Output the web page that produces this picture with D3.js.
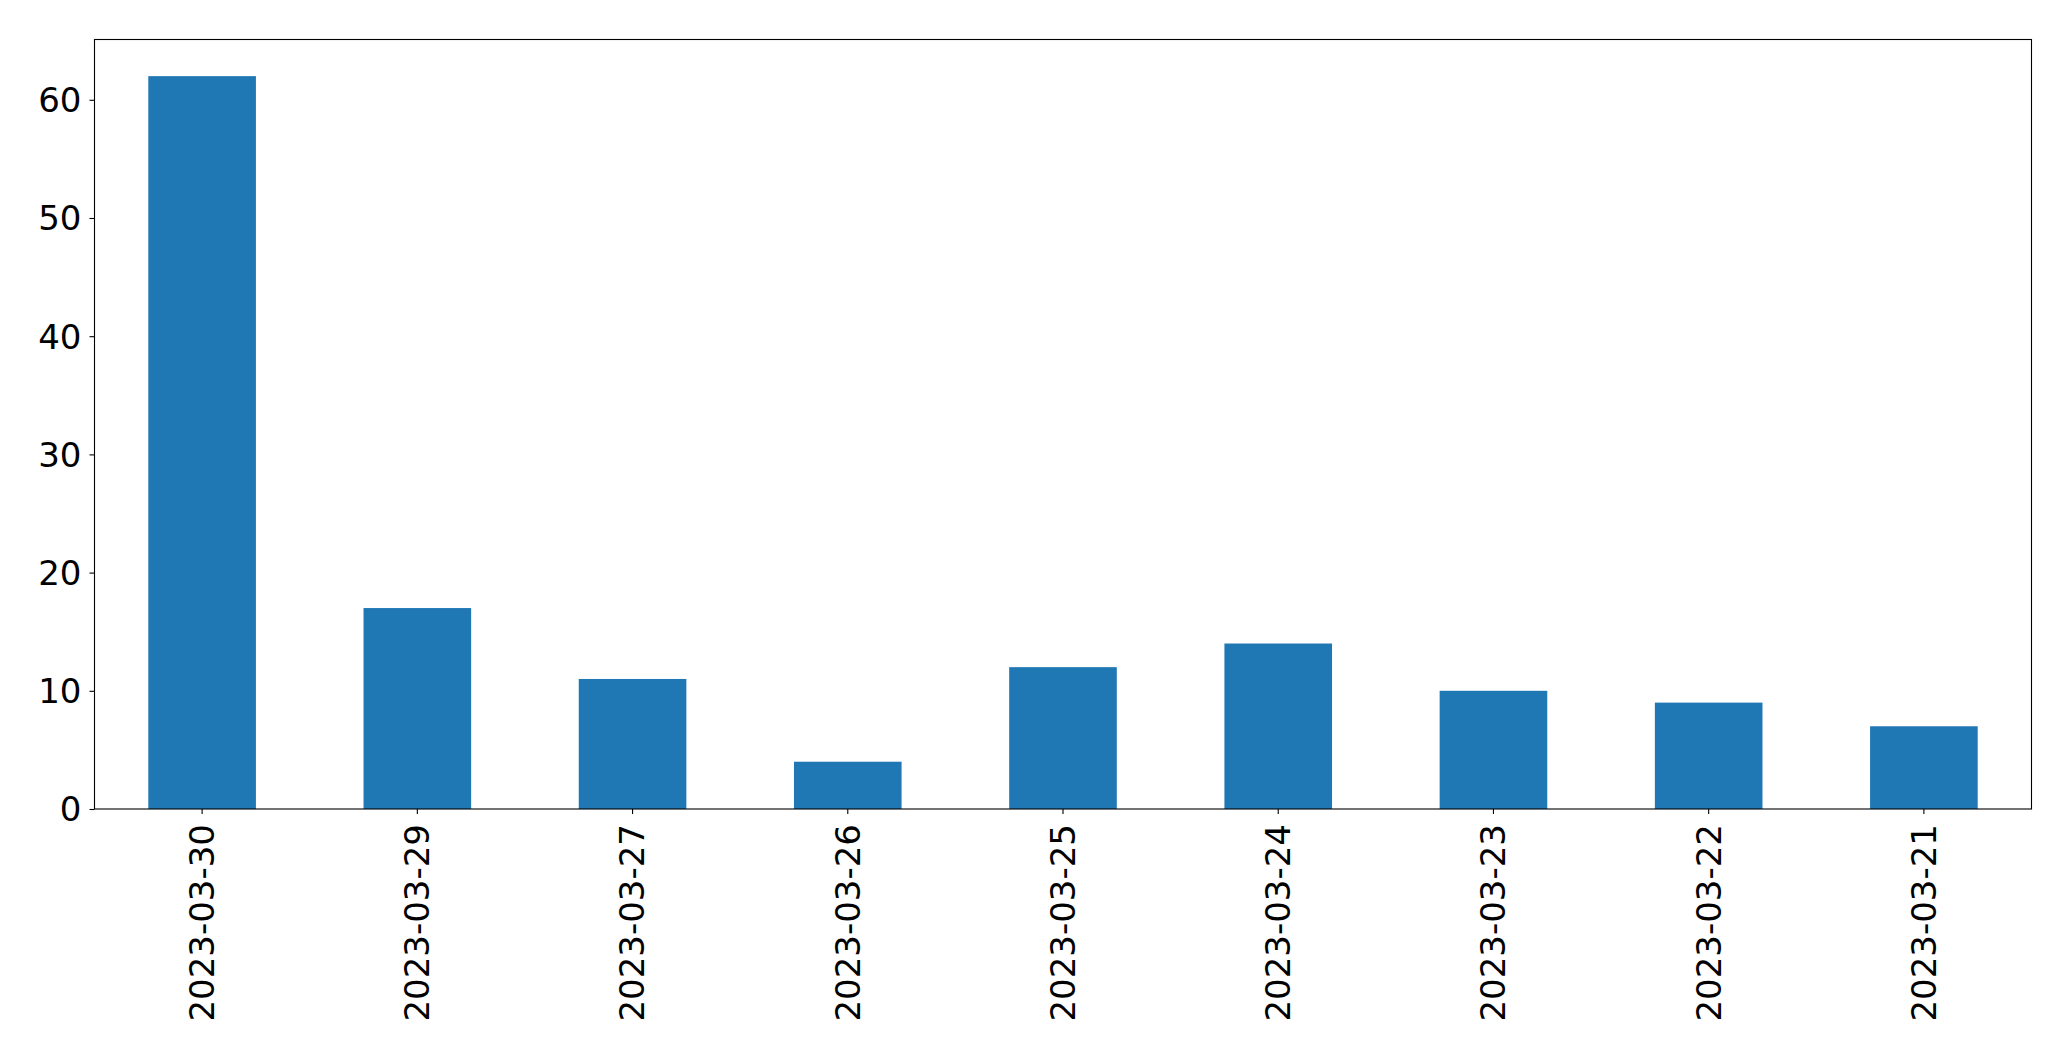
<!DOCTYPE html>
<html>
<head>
<meta charset="utf-8">
<script src="https://cdn.jsdelivr.net/npm/d3@7"></script>
<style>
  html, body { margin: 0; padding: 0; background: #fff; }
  svg { display: block; }
  text { font-family: "DejaVu Sans", sans-serif; fill: #000; }
</style>
</head>
<body>
<script>
const categories = ["2023-03-30", "2023-03-29", "2023-03-27", "2023-03-26", "2023-03-25", "2023-03-24", "2023-03-23", "2023-03-22", "2023-03-21"];
const values = [62, 17, 11, 4, 12, 14, 10, 9, 7];
const yTicks = [0, 10, 20, 30, 40, 50, 60];

const W = 2071, H = 1061;
const margin = { left: 94.5, top: 39.5, right: W - 2031.5, bottom: H - 809 };
const iw = W - margin.left - margin.right;
const ih = H - margin.top - margin.bottom;

const svg = d3.select("body").append("svg").attr("width", W).attr("height", H);
const g = svg.append("g").attr("transform", `translate(${margin.left},${margin.top})`);

const x = d3.scaleBand().domain(categories).range([0, iw]).paddingInner(0.5).paddingOuter(0.25);
const y = d3.scaleLinear().domain([0, d3.max(values) * 1.05]).range([ih, 0]);

g.selectAll("rect.bar").data(values).enter().append("rect")
  .attr("class", "bar")
  .attr("x", (d, i) => x(categories[i]))
  .attr("width", x.bandwidth())
  .attr("y", d => y(d))
  .attr("height", d => y(0) - y(d))
  .attr("fill", "#1f77b4");

const fs = 34;
const yAxis = g.append("g").call(d3.axisLeft(y).tickValues(yTicks).tickSize(5).tickPadding(8).tickFormat(d3.format("d")));
yAxis.select(".domain").remove();
yAxis.selectAll("line").attr("stroke", "#000").attr("stroke-width", 1.1);
yAxis.selectAll("text").style("font-size", fs + "px").attr("dy", "0.35em");

const xAxis = g.append("g").attr("transform", `translate(0,${ih})`)
  .call(d3.axisBottom(x).tickSize(5).tickPadding(0));
xAxis.select(".domain").remove();
xAxis.selectAll("line").attr("stroke", "#000").attr("stroke-width", 1.1);
xAxis.selectAll("text")
  .style("font-size", fs + "px")
  .attr("text-anchor", "end")
  .attr("transform", "translate(0,15) rotate(-90)")
  .attr("x", 0).attr("y", 0).attr("dy", "0.35em");

g.append("rect").attr("x", 0).attr("y", 0).attr("width", iw).attr("height", ih)
  .attr("fill", "none").attr("stroke", "#000").attr("stroke-width", 1.1);
</script>
</body>
</html>
